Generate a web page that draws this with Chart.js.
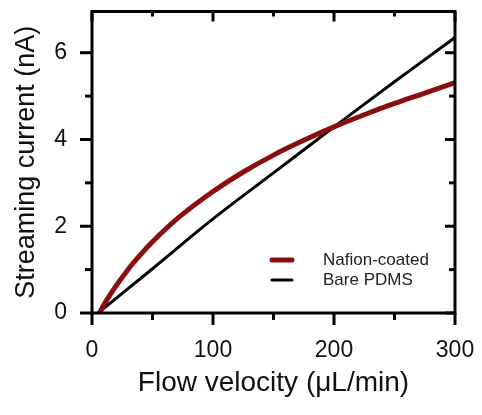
<!DOCTYPE html>
<html>
<head>
<meta charset="utf-8">
<script src="https://cdn.jsdelivr.net/npm/chart.js@4.4.1/dist/chart.umd.min.js"></script>
<style>
  html, body { margin: 0; padding: 0; background: #fff; }
  #wrap { width: 482px; height: 415px; position: relative; }
</style>
</head>
<body>
<div id="wrap"><canvas id="c" width="482" height="415"></canvas></div>
<script>
// Streaming current versus flow velocity
const flowNafion    = [5.5, 12, 20, 30, 40, 50, 62, 75, 100, 125, 150, 175, 200, 225, 250, 275, 300];
const currentNafion = [-0.03, 0.29, 0.63, 1.01, 1.34, 1.64, 1.965, 2.28, 2.80, 3.25, 3.64, 3.98, 4.29, 4.57, 4.83, 5.07, 5.31];
const flowBare      = [5, 50, 100, 150, 202, 250, 300];
const currentBare   = [0, 1.02, 2.17, 3.23, 4.33, 5.33, 6.35];

const seriesLabels = ['Nafion-coated', 'Bare PDMS'];
const xMajorTicks = [0, 100, 200, 300];
const xMinorTicks = [50, 150, 250];
const yMajorTicks = [0, 2, 4, 6];
const yMinorTicks = [1, 3, 5];

const toPoints = (xs, ys) => xs.map((x, i) => ({ x: x, y: ys[i] }));
const FONT = '"Liberation Sans", Arial, sans-serif';

// Box frame, major/minor ticks (outward on left/bottom, inward on top/right) and legend
const frameAndLegend = {
  id: 'frameAndLegend',
  afterDatasetsDraw(chart) {
    const { ctx, chartArea: a, scales: { x, y } } = chart;
    ctx.save();
    ctx.strokeStyle = '#000';
    ctx.lineWidth = 3;
    ctx.lineCap = 'butt';
    ctx.strokeRect(a.left, a.top, a.right - a.left, a.bottom - a.top);

    const tick = (x1, y1, x2, y2) => { ctx.beginPath(); ctx.moveTo(x1, y1); ctx.lineTo(x2, y2); ctx.stroke(); };
    xMajorTicks.forEach(v => { const px = x.getPixelForValue(v); tick(px, a.bottom, px, a.bottom + 12); tick(px, a.top, px, a.top + 10); });
    xMinorTicks.forEach(v => { const px = x.getPixelForValue(v); tick(px, a.bottom, px, a.bottom + 7); tick(px, a.top, px, a.top + 5); });
    yMajorTicks.forEach(v => { const py = y.getPixelForValue(v); tick(a.left - 12, py, a.left, py); tick(a.right - 10, py, a.right, py); });
    yMinorTicks.forEach(v => { const py = y.getPixelForValue(v); tick(a.left - 7, py, a.left, py); tick(a.right - 6, py, a.right, py); });

    // legend
    const lx = 270, ly = 260, gap = 20;
    chart.data.datasets.forEach((ds, i) => {
      const yy = ly + i * gap;
      ctx.strokeStyle = ds.borderColor;
      ctx.lineWidth = ds.borderWidth;
      ctx.lineCap = 'round';
      tick(lx + 2, yy, lx + 22, yy);
      ctx.fillStyle = '#222';
      ctx.font = '17px ' + FONT;
      ctx.textBaseline = 'middle';
      ctx.textAlign = 'left';
      ctx.fillText(ds.label, 323, yy);
    });
    ctx.restore();
  }
};

const noScalePadding = s => { s.paddingTop = 0; s.paddingBottom = 0; s.paddingLeft = 0; s.paddingRight = 0; };

new Chart(document.getElementById('c'), {
  type: 'line',
  data: {
    datasets: [
      {
        label: seriesLabels[0],
        data: toPoints(flowNafion, currentNafion),
        borderColor: '#8a0e0e',
        borderWidth: 5,
        pointRadius: 0,
        tension: 0.4,
        fill: false
      },
      {
        label: seriesLabels[1],
        data: toPoints(flowBare, currentBare),
        borderColor: '#000000',
        borderWidth: 3,
        pointRadius: 0,
        tension: 0.4,
        fill: false
      }
    ]
  },
  options: {
    responsive: false,
    animation: false,
    layout: { padding: { left: 0, right: 27, top: 11.5, bottom: 0 } },
    plugins: { legend: { display: false }, tooltip: { enabled: false } },
    scales: {
      x: {
        type: 'linear',
        min: 0, max: 300,
        afterBuildTicks: s => { s.ticks = xMajorTicks.map(v => ({ value: v })); },
        afterFit: s => { s.height = 102; noScalePadding(s); },
        grid: { display: false, drawTicks: false },
        border: { display: false },
        ticks: { padding: 24, color: '#111', maxRotation: 0, autoSkip: false, font: { family: FONT, size: 23 } },
        title: { display: true, text: 'Flow velocity (\u03bcL/min)', color: '#111', font: { family: FONT, size: 28 }, padding: { top: 8, bottom: 15 } }
      },
      y: {
        type: 'linear',
        min: 0, max: 6.95,
        afterBuildTicks: s => { s.ticks = yMajorTicks.map(v => ({ value: v })); },
        afterFit: s => { s.width = 92; noScalePadding(s); },
        grid: { display: false, drawTicks: false },
        border: { display: false },
        ticks: { padding: 25, color: '#111', autoSkip: false, font: { family: FONT, size: 23 } },
        title: { display: true, text: 'Streaming current (nA)', color: '#111', font: { family: FONT, size: 27 }, padding: { top: 10, bottom: 0 } }
      }
    }
  },
  plugins: [frameAndLegend]
});
</script>
</body>
</html>
